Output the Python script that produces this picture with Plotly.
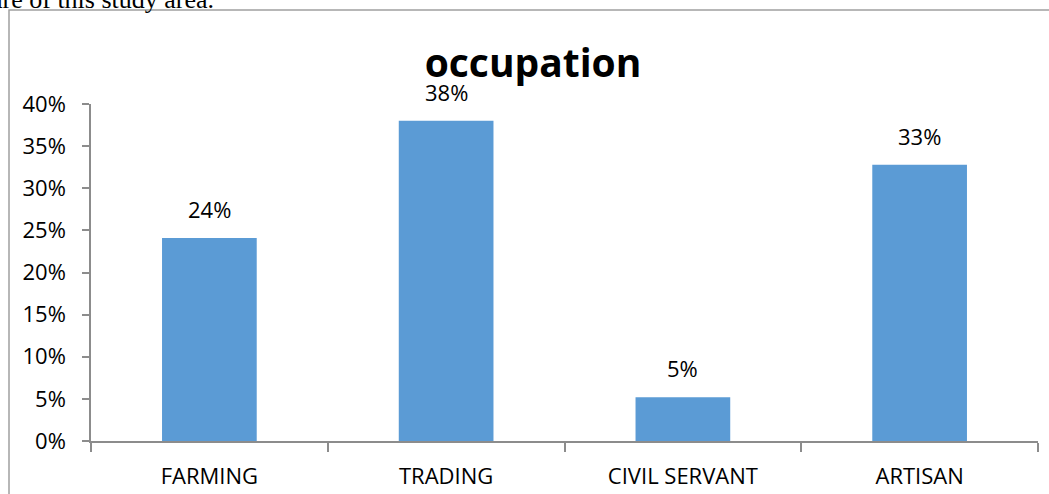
import plotly.graph_objects as go

categories = ["FARMING", "TRADING", "CIVIL SERVANT", "ARTISAN"]
values = [0.241, 0.380, 0.052, 0.328]
value_labels = ["24%", "38%", "5%", "33%"]
y_ticks = [0, 0.05, 0.10, 0.15, 0.20, 0.25, 0.30, 0.35, 0.40]
y_tick_labels = ["0%", "5%", "10%", "15%", "20%", "25%", "30%", "35%", "40%"]

W, H = 1049, 494
L, R, T, B = 91, 11, 104, 53
pw, ph = W - L - R, H - T - B

def px_to_paper_x(px):
    return (px - L) / pw

def px_to_paper_y(py):
    return 1 + (T - py) / ph

FONT = "Open Sans"
AXIS_COL = "#8c8c8c"

fig = go.Figure()
fig.add_trace(go.Bar(
    x=categories, y=values, width=0.4,
    marker=dict(color="#5b9bd5", line=dict(width=0)),
    hoverinfo="skip",
))

for c, v, lab in zip(categories, values, value_labels):
    fig.add_annotation(x=c, y=v, xref="x", yref="y", text=lab, showarrow=False,
                       yanchor="bottom", yshift=12,
                       font=dict(family=FONT, size=22, color="#000000"))

# chart border (partially outside the image)
fig.add_shape(type="rect", xref="paper", yref="paper",
              x0=px_to_paper_x(9), x1=px_to_paper_x(1080),
              y0=px_to_paper_y(560), y1=px_to_paper_y(10),
              line=dict(color="#a0a0a0", width=1.5), fillcolor="rgba(0,0,0,0)", layer="below")

# cut-off text of the surrounding document
fig.add_annotation(xref="paper", yref="paper", x=px_to_paper_x(-11), y=px_to_paper_y(16.5),
                   xanchor="left", yanchor="bottom", showarrow=False,
                   text="are of this study area.",
                   font=dict(family="Liberation Serif", size=26, color="#000000"))

fig.update_layout(
    width=W, height=H, autosize=False,
    margin=dict(l=L, r=R, t=T, b=B, pad=0, autoexpand=False),
    paper_bgcolor="white", plot_bgcolor="white",
    showlegend=False,
    title=dict(text="occupation", x=533 / W, xanchor="center", xref="container",
               y=1 - 63.5 / H, yanchor="middle", yref="container",
               font=dict(family=FONT, size=39, weight="bold", color="#000000")),
    xaxis=dict(type="category", range=[-0.5, 3.5], showline=True, linecolor=AXIS_COL, linewidth=1.5,
               ticks="outside", tickson="boundaries", ticklen=9, tickcolor=AXIS_COL, tickwidth=1.5,
               showgrid=False, zeroline=False, ticklabelstandoff=15, automargin=False,
               tickfont=dict(family=FONT, size=22, color="#000000")),
    yaxis=dict(range=[0, 0.4], tickvals=y_ticks, ticktext=y_tick_labels, showline=True,
               linecolor=AXIS_COL, linewidth=1.5, ticks="outside", ticklen=7, tickcolor=AXIS_COL,
               tickwidth=1.5, showgrid=False, zeroline=False, ticklabelstandoff=12, automargin=False,
               tickfont=dict(family=FONT, size=22, color="#000000")),
)

fig.write_html("out.html", config={"displayModeBar": False},
               post_script="document.body.style.margin='0';document.body.style.overflow='hidden';")
